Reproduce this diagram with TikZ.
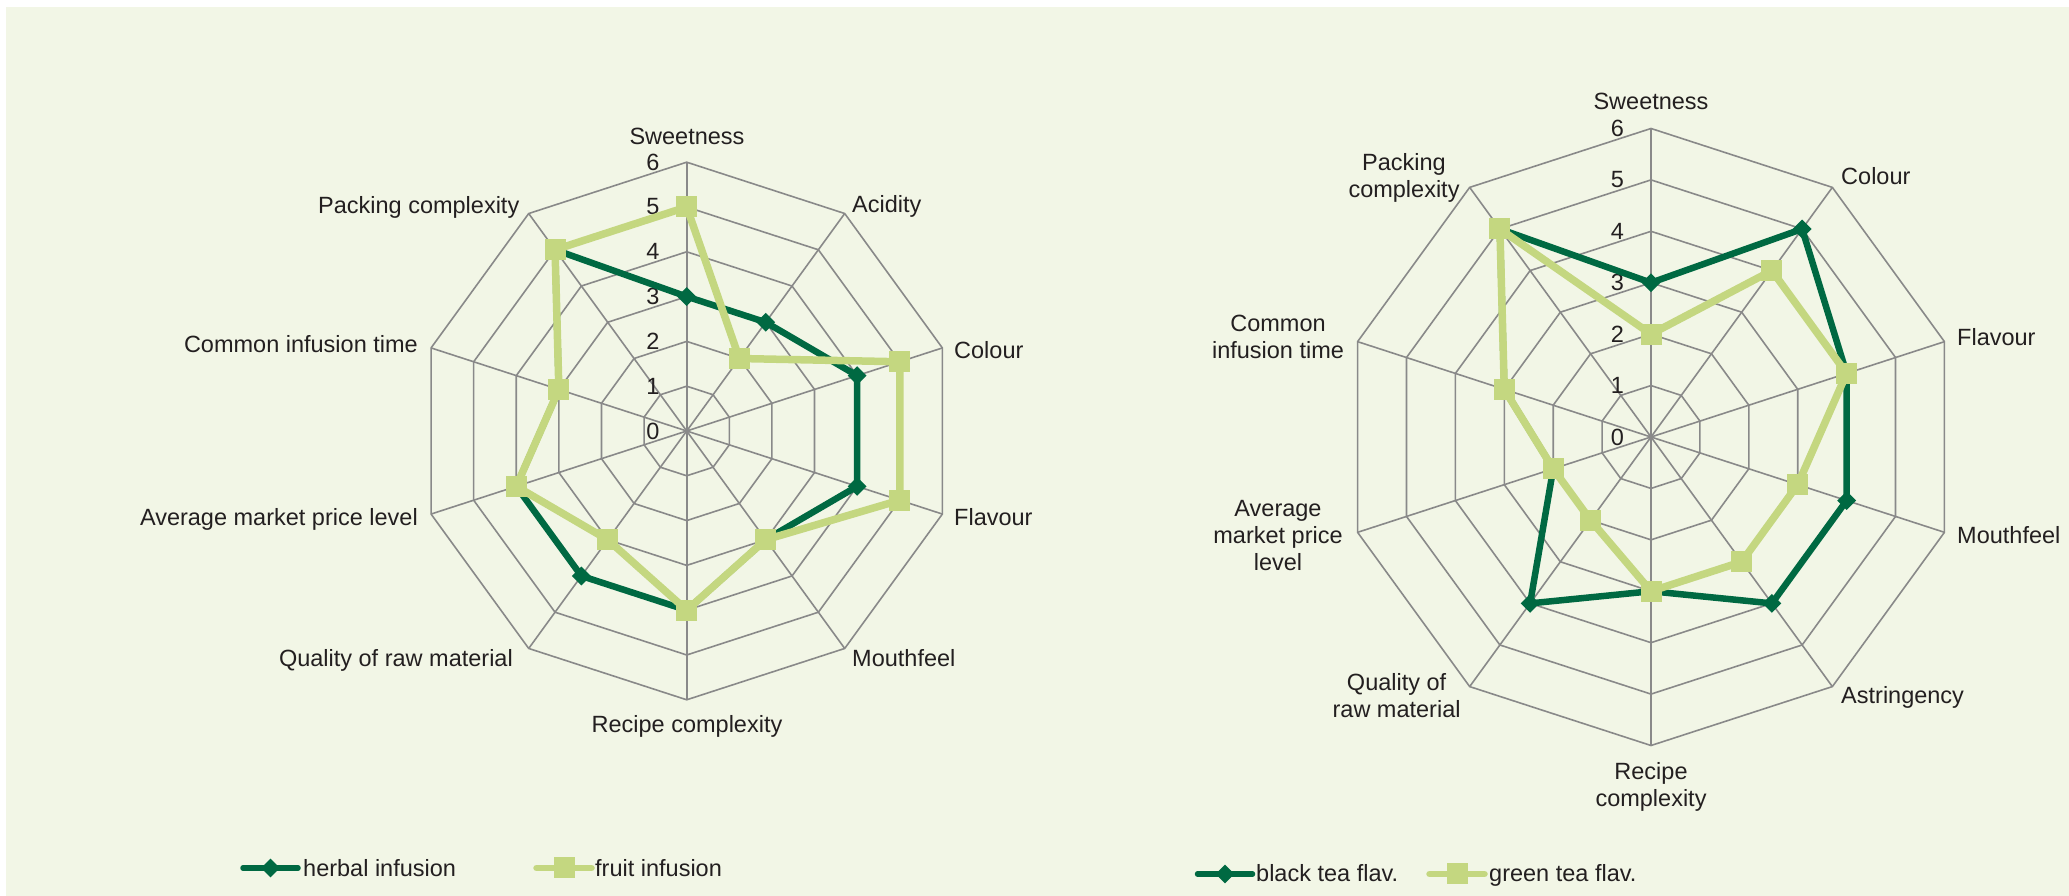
\documentclass[tikz,border=0pt]{standalone}
\usepackage{fontspec}
\setmainfont{Liberation Sans}
\usetikzlibrary{shapes.geometric,positioning}
\definecolor{chartbg}{RGB}{242,246,230}
\definecolor{herbgreen}{RGB}{0,105,66}
\definecolor{fruitgreen}{RGB}{196,215,128}
\definecolor{gridgray}{RGB}{137,137,137}
\definecolor{labelgray}{RGB}{35,31,32}
\newcommand{\chartfont}{\fontsize{23.5}{27}\selectfont}
\tikzstyle{gridline} = [draw=gridgray, line width=1.6pt]
\tikzstyle{darkline} = [draw=herbgreen, line width=6.5pt, line join=round]
\tikzstyle{lightline} = [draw=fruitgreen, line width=7.5pt, line join=round]
\tikzstyle{darkmark} = [diamond, fill=herbgreen, inner sep=0pt, minimum size=19pt]
\tikzstyle{lightmark} = [rectangle, fill=fruitgreen, inner sep=0pt, minimum size=21pt]
\tikzstyle{axislabel} = [font=\chartfont, text=labelgray, inner sep=0pt]
\tikzstyle{ticklabel} = [font=\chartfont, text=labelgray, inner sep=0pt, anchor=east]
\begin{document}
\begin{tikzpicture}[x=1pt, y=1pt]
	\useasboundingbox (0,0) rectangle (2069,896);
	\fill[chartbg] (6,0) rectangle (2069,889);
	
	%left chart
	\begin{scope}[shift={(686.7,465)}]
		\foreach \r in {1,...,6}
			\draw[gridline] (90:\r*44.8) \foreach \a in {54,18,...,-234} {-- (\a:\r*44.8)} -- cycle;
		\foreach \a in {90,54,...,-234}
			\draw[gridline] (0,0) -- (\a:268.8);
		\foreach \v in {0,...,6}
			\node[ticklabel] (tl\v) at (-27,\v*44.8) {\v};
		\foreach \v [count=\i] in {3,3,4,4,3,4,4,4,3,5}
			\coordinate (h\i) at ({126-36*\i}:\v*44.8);
		\foreach \v [count=\i] in {5,2,5,5,3,4,3,4,3,5}
			\coordinate (f\i) at ({126-36*\i}:\v*44.8);
	\end{scope}
	\draw[darkline] (h1) -- (h2) -- (h3) -- (h4) -- (h5) -- (h6) -- (h7) -- (h8) -- (h9) -- (h10) -- cycle;
	\foreach \i in {1,...,10}
		\node[darkmark] (hm\i) at (h\i) {};
	\draw[lightline] (f1) -- (f2) -- (f3) -- (f4) -- (f5) -- (f6) -- (f7) -- (f8) -- (f9) -- (f10) -- cycle;
	\foreach \i in {1,...,10}
		\node[lightmark] (fm\i) at (f\i) {};
	
	\node[axislabel, anchor=base] (sweet1) at (687,751.7) {Sweetness};
	\node[axislabel, anchor=base west] (acid1) at (852,683.3) {Acidity};
	\node[axislabel, anchor=west] (colour1) at (954,546) {Colour};
	\node[axislabel, anchor=west] (flav1) at (954,379) {Flavour};
	\node[axislabel, anchor=base west] (mouth1) at (852,229.3) {Mouthfeel};
	\node[axislabel, anchor=base] (recipe1) at (687,163) {Recipe complexity};
	\node[axislabel, anchor=base east] (quality1) at (513,229.3) {Quality of raw material};
	\node[axislabel, anchor=base east] (price1) at (418,370) {Average market price level};
	\node[axislabel, anchor=base east] (infuse1) at (418,543.3) {Common infusion time};
	\node[axislabel, anchor=base east] (pack1) at (519.5,682.5) {Packing complexity};
	
	%right chart
	\begin{scope}[shift={(1651,459)}]
		\foreach \r in {1,...,6}
			\draw[gridline] (90:\r*51.42) \foreach \a in {54,18,...,-234} {-- (\a:\r*51.42)} -- cycle;
		\foreach \a in {90,54,...,-234}
			\draw[gridline] (0,0) -- (\a:308.5);
		\foreach \v in {0,...,6}
			\node[ticklabel] (tr\v) at (-27,\v*51.42) {\v};
		\foreach \v [count=\i] in {3,5,4,4,4,3,4,2,3,5}
			\coordinate (b\i) at ({126-36*\i}:\v*51.42);
		\foreach \v [count=\i] in {2,4,4,3,3,3,2,2,3,5}
			\coordinate (g\i) at ({126-36*\i}:\v*51.42);
	\end{scope}
	\draw[darkline] (b1) -- (b2) -- (b3) -- (b4) -- (b5) -- (b6) -- (b7) -- (b8) -- (b9) -- (b10) -- cycle;
	\foreach \i in {1,...,10}
		\node[darkmark] (bm\i) at (b\i) {};
	\draw[lightline] (g1) -- (g2) -- (g3) -- (g4) -- (g5) -- (g6) -- (g7) -- (g8) -- (g9) -- (g10) -- cycle;
	\foreach \i in {1,...,10}
		\node[lightmark] (gm\i) at (g\i) {};
	
	\node[axislabel, anchor=base] (sweet2) at (1651,786.7) {Sweetness};
	\node[axislabel, anchor=base west] (colour2) at (1841,711) {Colour};
	\node[axislabel, anchor=base west] (flav2) at (1957,550.3) {Flavour};
	\node[axislabel, anchor=base west] (mouth2) at (1957,352.7) {Mouthfeel};
	\node[axislabel, anchor=base west] (astr2) at (1841,192) {Astringency};
	\node[axislabel, anchor=base, align=center] (recipe2) at (1651,89) {Recipe\\complexity};
	\node[axislabel, anchor=base, align=center] (quality2) at (1396.6,178.3) {Quality of\\raw material};
	\node[axislabel, anchor=base, align=center] (price2) at (1278,325.3) {Average\\market price\\level};
	\node[axislabel, anchor=base, align=center] (infuse2) at (1278,537.3) {Common\\infusion time};
	\node[axislabel, anchor=base, align=center] (pack2) at (1404,698) {Packing\\complexity};
	
	%legend
	\coordinate (legherb) at (270.5,28);
	\draw[darkline, line width=5.5pt, line cap=round] (legherb) +(-27.5,0) -- +(27.5,0);
	\node[darkmark] (legherbm) at (legherb) {};
	\node[axislabel, anchor=base west] (legherbt) at (303,19) {herbal infusion};
	\coordinate (legfruit) at (564,28);
	\draw[lightline, line width=6.5pt, line cap=round] (legfruit) +(-27.5,0) -- +(27.5,0);
	\node[lightmark] (legfruitm) at (legfruit) {};
	\node[axislabel, anchor=base west] (legfruitt) at (595,19) {fruit infusion};
	\coordinate (legblack) at (1225,22);
	\draw[darkline, line width=5.5pt, line cap=round] (legblack) +(-27.5,0) -- +(27.5,0);
	\node[darkmark] (legblackm) at (legblack) {};
	\node[axislabel, anchor=base west] (legblackt) at (1256,14) {black tea flav.};
	\coordinate (leggreen) at (1457,22);
	\draw[lightline, line width=6.5pt, line cap=round] (leggreen) +(-27.5,0) -- +(27.5,0);
	\node[lightmark] (leggreenm) at (leggreen) {};
	\node[axislabel, anchor=base west] (leggreent) at (1489,14) {green tea flav.};
\end{tikzpicture}
\end{document}
